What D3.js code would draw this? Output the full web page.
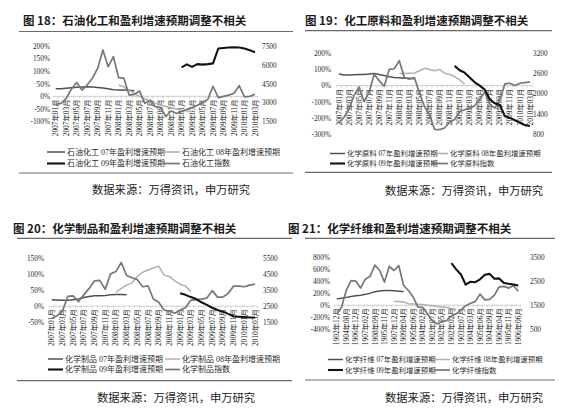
<!DOCTYPE html>
<html><head><meta charset="utf-8">
<script src="https://cdn.jsdelivr.net/npm/d3@7"></script>
<style>body{margin:0;background:#fff}svg{display:block}</style>
</head><body>
<svg id="c" width="571" height="411"></svg>
<script>
// ---------- categories ----------
const months = ["2007年01月","2007年02月","2007年03月","2007年04月","2007年05月","2007年06月","2007年07月","2007年08月","2007年09月","2007年10月","2007年11月","2007年12月",
"2008年01月","2008年02月","2008年03月","2008年04月","2008年05月","2008年06月","2008年07月","2008年08月","2008年09月","2008年10月","2008年11月","2008年12月",
"2009年01月","2009年02月","2009年03月","2009年04月","2009年05月","2009年06月","2009年07月","2009年08月","2009年09月","2009年10月","2009年11月","2009年12月",
"2010年01月","2010年02月","2010年03月"];
const monthTicks = ["2007年01月","2007年03月","2007年05月","2007年07月","2007年09月","2007年11月","2008年01月","2008年03月","2008年05月","2008年07月","2008年09月","2008年11月","2009年01月","2009年03月","2009年05月","2009年07月","2009年09月","2009年11月","2010年01月","2010年03月"];
const fiberTicks = ["1902年12月","1904年08月","1906年12月","1907年02月","1908年09月","1905年11月","1907年12月","1909年04月","1905年06月","1904年02月","1902年07月","1902年05月","1902年02月","1903年07月","1904年03月","1905年06月","1904年09月","1906年04月","1905年11月","1906年06月"];

// ---------- 图18 石油化工 ----------
const petro07 = [30,30,32,34,36,37,38,37,35,33,30,26,25,25,24,22,null,null,null,null,null,null,null,null,null,null,null,null,null,null,null,null,null,null,null,null,null,null,null];
const petro08 = [null,null,null,null,null,null,null,null,null,null,null,null,45,38,25,10,0,-10,-20,-28,-35,-40,-45,-50,-55,-58,-60,null,null,null,null,null,null,null,null,null,null,null,null];
const petro09 = [null,null,null,null,null,null,null,null,null,null,null,null,null,null,null,null,null,null,null,null,null,null,null,null,115,127,117,128,126,128,131,190,192,194,195,194,190,183,175];
const petroIdx = [2860,2940,3340,4080,4600,4000,4400,4940,5720,7180,5860,6660,4980,4940,3600,3660,3920,2940,3200,2680,2600,1900,2340,2140,2300,2460,2600,2800,3000,3260,4300,3400,3500,3600,3740,4340,3460,3500,3660];
const petroLeftTicks = [-100,-50,0,50,100,150,200];
const petroRightTicks = [1500,3000,4500,6000,7500];

// ---------- 图19 化工原料 ----------
const raw07 = [72,65,65,67,68,68,72,75,68,62,55,50,48,46,45,42,null,null,null,null,null,null,null,null,null,null,null,null,null,null,null,null,null,null,null,null,null,null,null];
const raw08 = [null,null,null,null,null,null,null,null,null,null,null,null,75,75,77,78,92,107,100,92,100,76,70,55,35,8,null,null,null,null,null,null,null,null,null,null,null,null,null];
const raw09 = [null,null,null,null,null,null,null,null,null,null,null,null,null,null,null,null,null,null,null,null,null,null,null,122,95,80,50,20,0,-25,-85,-110,-120,-190,-200,-215,-230,-245,-250];
const rawIdx = [1120,1300,1540,1950,2200,1760,2050,2580,2380,2220,2720,2740,2980,2480,2430,2480,2020,1620,1380,940,930,980,1150,1230,1470,1520,1560,1640,1830,2050,1690,1570,1810,2290,2310,2240,2310,2330,2350];
const rawLeftTicks = [-300,-200,-100,0,100,200];
const rawRightTicks = [800,1400,2000,2600,3200];

// ---------- 图20 化学制品 ----------
const prod07 = [20,19,18,18,20,22,27,30,32,32,33,35,36,36,35,null,null,null,null,null,null,null,null,null,null,null,null,null,null,null,null,null,null,null,null,null,null,null,null];
const prod08 = [null,null,null,null,null,null,null,null,null,null,null,null,43,55,65,72,92,105,112,118,124,96,92,78,68,62,45,null,null,null,null,null,null,null,null,null,null,null,null];
const prod09 = [null,null,null,null,null,null,null,null,null,null,null,null,null,null,null,null,null,null,null,null,null,null,null,null,40,35,28,22,12,4,-5,-12,-17,-24,-32,-33,-34,-35,-35];
const prodIdx = [1740,1900,2200,3100,3140,2780,3200,3600,4060,4100,3540,4500,4640,5200,4400,4260,4140,3700,3760,2940,2740,2260,2180,2060,2260,2400,2860,2900,2940,3000,3460,3060,3060,3300,3740,3740,3700,3800,3860];
const prodLeftTicks = [-50,0,50,100,150];
const prodRightTicks = [1500,2500,3500,4500,5500];

// ---------- 图21 化学纤维 ----------
const fiber07 = [105,115,130,145,155,165,180,200,225,235,243,243,238,232,227,null,null,null,null,null,null,null,null,null,null,null,null,null,null,null,null,null,null,null,null,null,null,null,null];
const fiber08 = [null,null,null,null,null,null,null,null,null,null,null,null,60,60,55,25,20,15,10,0,-10,-20,-30,-40,-55,-70,null,null,null,null,null,null,null,null,null,null,null,null,null];
const fiber09 = [null,null,null,null,null,null,null,null,null,null,null,null,null,null,null,null,null,null,null,null,null,null,null,null,700,595,510,340,390,382,430,505,520,440,445,370,355,343,326];
const fiberIdx = [1120,1400,2120,2520,2500,2210,2580,2700,3160,2940,2460,3110,2940,3140,2320,2110,1840,1420,1410,1140,860,720,820,860,1060,1140,1310,1480,1580,1650,1960,1720,1740,1920,2260,2280,2210,2320,2080];
const fiberLeftTicks = [-400,-200,0,200,400,600,800];
const fiberRightTicks = [500,1500,2500,3500];

const source = "数据来源：万得资讯，申万研究";

// ---------- styles ----------
const STY = {
  s07:{stroke:"#505050",w:1.5},
  s08:{stroke:"#b0b0b0",w:1.5},
  s09:{stroke:"#121212",w:2.1},
  idx:{stroke:"#777",w:1.7}
};
const serif = "'Liberation Serif','Times New Roman','Noto Sans CJK SC',serif";
const cjk = "'Noto Sans CJK SC',sans-serif";

const panels = [
 {title:"图 18：石油化工和盈利增速预期调整不相关", name:"石油化工",
  s07:petro07,s08:petro08,s09:petro09,idx:petroIdx, lt:petroLeftTicks, rt:petroRightTicks, ticks:monthTicks,
  L:{tx:23,ty:24.5,r1:[19,293,31.5],r2:[19,293,173],sx:92,sy:194,x0:55.7,x1:255,yT:46,yB:121.5,lx:50,rx:262,
     lg:{y1:152,y2:163.5,c1:[47,65,67],c2:[163,180,182],fs:8}}},
 {title:"图 19：化工原料和盈利增速预期调整不相关", name:"化学原料",
  s07:raw07,s08:raw08,s09:raw09,idx:rawIdx, lt:rawLeftTicks, rt:rawRightTicks, ticks:monthTicks,
  L:{tx:305,ty:25,r1:[305,552,30.7],r2:[305,552,172.3],sx:385,sy:195,x0:339,x1:530,yT:53.3,yB:134,lx:331,rx:533,
     lg:{y1:153.5,y2:163.5,c1:[330,345,347],c2:[432,448,450],fs:7.4}}},
 {title:"图 20：化学制品和盈利增速预期调整不相关", name:"化学制品",
  s07:prod07,s08:prod08,s09:prod09,idx:prodIdx, lt:prodLeftTicks, rt:prodRightTicks, ticks:monthTicks,
  L:{tx:13,ty:232.5,r1:[17,292,238.3],r2:[17,292,380.7],sx:97,sy:401.7,x0:51.7,x1:255,yT:257.7,yB:322.3,lx:44,rx:263,
     lg:{y1:359,y2:369.5,c1:[48,63,65],c2:[165,180,182],fs:8}}},
 {title:"图 21：化学纤维和盈利增速预期调整不相关", name:"化学纤维",
  s07:fiber07,s08:fiber08,s09:fiber09,idx:fiberIdx, lt:fiberLeftTicks, rt:fiberRightTicks, ticks:fiberTicks,
  L:{tx:288,ty:232.5,r1:[305,555,238.3],r2:[305,555,380],sx:385,sy:401.7,x0:336.7,x1:518.3,yT:257,yB:329.3,lx:330,rx:530,
     lg:{y1:359.5,y2:370,c1:[328,343,345],c2:[435,450,452],fs:7.4}}}
];

const svg = d3.select("#c");

function drawPanel(p){
  const L = p.L, g = svg.append("g");
  const n = p.idx.length;
  const x = d3.scalePoint().domain(d3.range(n)).range([L.x0, L.x1]);
  const step = x.step();
  const yL = d3.scaleLinear().domain([d3.min(p.lt), d3.max(p.lt)]).range([L.yB, L.yT]);
  const yR = d3.scaleLinear().domain([d3.min(p.rt), d3.max(p.rt)]).range([L.yB, L.yT]);

  g.append("text").attr("x",L.tx).attr("y",L.ty).text(p.title)
   .attr("font-family",cjk).attr("font-weight","bold").attr("font-size",11.5).attr("fill","#1a1a1a");
  [L.r1,L.r2].forEach(r=>g.append("line").attr("x1",r[0]).attr("x2",r[1]).attr("y1",r[2]).attr("y2",r[2])
     .attr("stroke","#6a6a6a").attr("stroke-width",1.2));

  const la = g.append("g").attr("transform",`translate(${L.lx},0)`)
    .call(d3.axisLeft(yL).tickValues(p.lt).tickFormat(d=>d+"%").tickSize(0).tickPadding(0));
  const ra = g.append("g").attr("transform",`translate(${L.rx},0)`)
    .call(d3.axisRight(yR).tickValues(p.rt).tickFormat(d3.format("d")).tickSize(0).tickPadding(0));
  [la,ra].forEach(a=>{a.select(".domain").remove();
    a.selectAll("text").attr("font-family",serif).attr("font-size",7.3).attr("fill","#2a2a2a");});

  // category axis at 0
  const y0 = yL(0);
  const xa = g.append("g");
  xa.append("line").attr("x1",L.x0-step/2).attr("x2",L.x1+step/2).attr("y1",y0).attr("y2",y0)
    .attr("stroke","#c4c4c4").attr("stroke-width",0.8);
  xa.selectAll("line.t").data(d3.range(n+1)).join("line").attr("class","t")
    .attr("x1",d=>L.x0-step/2+d*step).attr("x2",d=>L.x0-step/2+d*step)
    .attr("y1",y0).attr("y2",y0+2).attr("stroke","#c4c4c4").attr("stroke-width",0.7);
  xa.selectAll("text").data(p.ticks).join("text")
    .attr("transform",(d,i)=>`translate(${x(i*2)},${y0+3}) rotate(-90)`)
    .attr("text-anchor","end").attr("dy","0.35em")
    .attr("font-family",serif).attr("font-size",7.4).attr("fill","#222").text(d=>d);

  const line = sc => d3.line().defined(d=>d!=null).x((d,i)=>x(i)).y(d=>sc(d));
  const draw = (arr,sc,st)=>g.append("path").datum(arr).attr("d",line(sc)).attr("fill","none")
     .attr("stroke",st.stroke).attr("stroke-width",st.w).attr("stroke-linejoin","round");
  draw(p.s07,yL,STY.s07);
  draw(p.s08,yL,STY.s08);
  draw(p.idx,yR,STY.idx);
  draw(p.s09,yL,STY.s09);

  // legend
  const lg = L.lg;
  const items = [
    {st:STY.s07,t:p.name+" 07年盈利增速预期",c:lg.c1,y:lg.y1},
    {st:STY.s08,t:p.name+" 08年盈利增速预期",c:lg.c2,y:lg.y1},
    {st:STY.s09,t:p.name+" 09年盈利增速预期",c:lg.c1,y:lg.y2},
    {st:STY.idx,t:p.name+"指数",c:lg.c2,y:lg.y2}];
  items.forEach(it=>{
    g.append("line").attr("x1",it.c[0]).attr("x2",it.c[1]).attr("y1",it.y).attr("y2",it.y)
     .attr("stroke",it.st.stroke).attr("stroke-width",it.st.w);
    g.append("text").attr("x",it.c[2]).attr("y",it.y).attr("dy","0.35em").text(it.t)
     .attr("font-family",serif).attr("font-size",lg.fs).attr("fill","#2a2a2a");
  });

  g.append("text").attr("x",L.sx).attr("y",L.sy).text(source)
   .attr("font-family",cjk).attr("font-size",11.3).attr("fill","#222");
}
panels.forEach(drawPanel);
</script>
</body></html>
